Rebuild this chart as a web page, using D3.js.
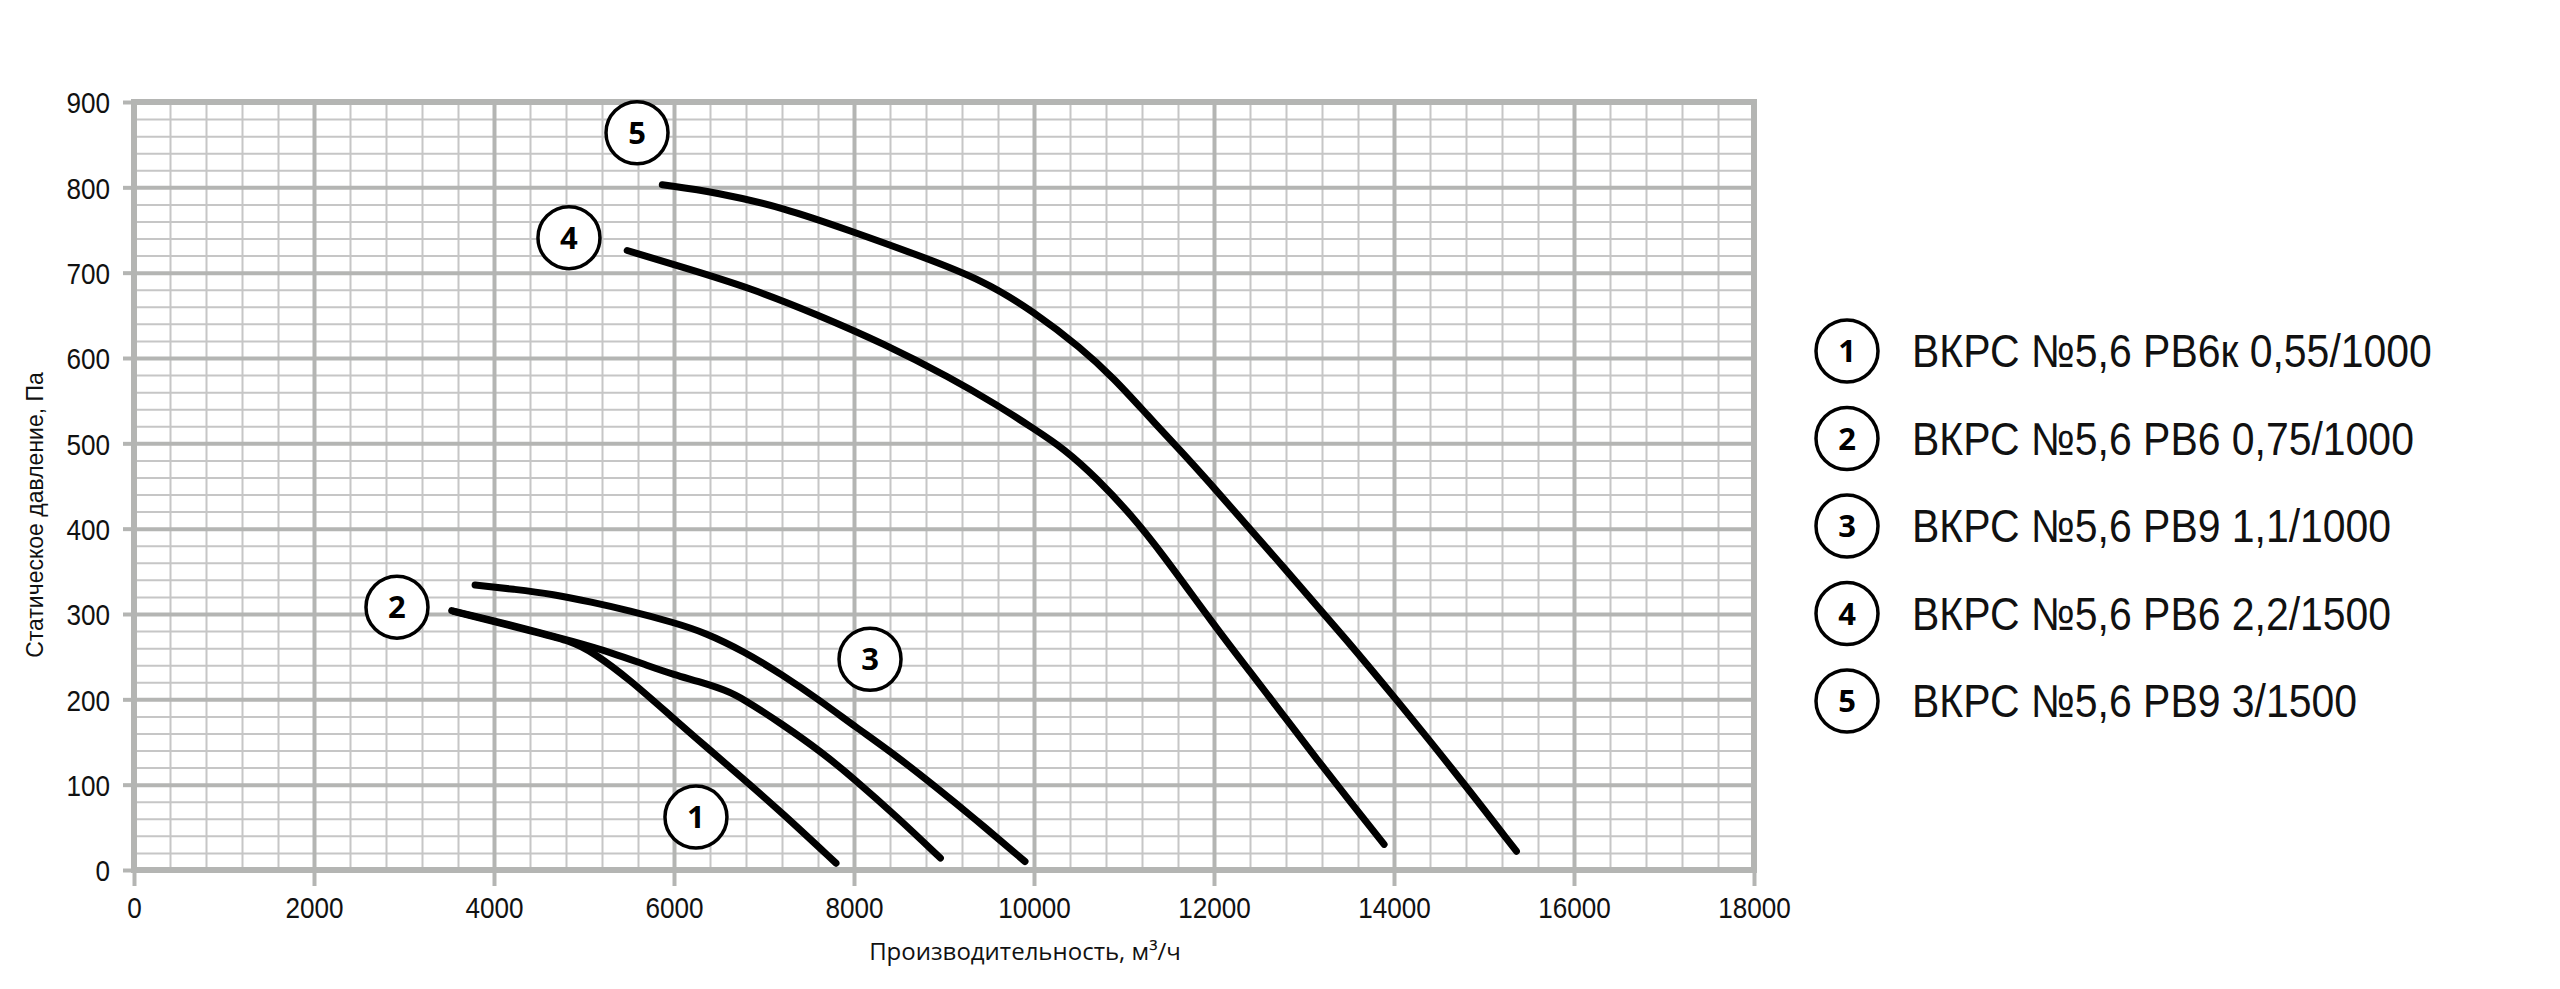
<!DOCTYPE html>
<html>
<head>
<meta charset="utf-8">
<script src="https://cdn.jsdelivr.net/npm/d3@7"></script>
<style>
  body { margin: 0; background: #fff; }
  svg { display: block; }
</style>
</head>
<body>
<div id="chart"></div>
<script>
// Chart size and plot frame (pixels)
var svgWidth = 2560;
var svgHeight = 989;

var plot = { left: 134, right: 1754, top: 102, bottom: 870 };

// Axis ticks
var xMajorTicks = [0, 2000, 4000, 6000, 8000, 10000, 12000, 14000, 16000, 18000];
var yMajorTicks = [0, 100, 200, 300, 400, 500, 600, 700, 800, 900];
var xMinorTicks = d3.range(0, 18001, 400);
var yMinorTicks = d3.range(0, 901, 20);

// Fan curves: flow (m3/h) and static pressure (Pa)
var curve1Flow = [3550, 4000, 4450, 4870, 5100, 5500, 6000, 6350, 6780, 7200, 7800];
var curve1Pres = [303, 291, 279, 268, 255, 224, 177, 145, 106, 67, 8];

var curve2Flow = [3530, 4000, 4450, 4870, 5300, 5720, 6000, 6270, 6570, 6780, 7200, 7630, 8000, 8480, 8960];
var curve2Pres = [304, 292, 280, 268, 255, 239, 229, 221, 211, 200, 171, 139, 107, 62, 14];

var curve3Flow = [3790, 4230, 4660, 5080, 5500, 6000, 6350, 6780, 7200, 7630, 8000, 8480, 8900, 9320, 9900];
var curve3Pres = [334, 329, 323, 314, 304, 290, 278, 256, 229, 198, 169, 133, 98, 62, 10];

var curve4Flow = [5480, 6110, 6850, 7590, 8330, 9070, 9590, 10000, 10330, 10700, 11080, 11410, 12000, 12410, 12780, 13150, 13520, 13890];
var curve4Pres = [726, 706, 682, 651, 617, 577, 545, 517, 494, 459, 416, 373, 287, 231, 180, 129, 79, 30];

var curve5Flow = [5870, 6480, 7220, 7960, 8700, 9440, 10000, 10520, 10890, 11260, 11640, 12000, 12780, 13520, 14000, 14640, 15360];
var curve5Pres = [803, 794, 776, 749, 721, 691, 654, 612, 576, 533, 490, 448, 354, 264, 203, 120, 22];

// Numbered markers on the plot (data coordinates)
var markerNumbers = ["1", "2", "3", "4", "5"];
var markerFlow = [6244, 2922, 8178, 4833, 5589];
var markerPres = [62, 308, 247, 741, 864];

// Legend labels
var legendLabels = [
  "ВКРС №5,6 РВ6к 0,55/1000",
  "ВКРС №5,6 РВ6 0,75/1000",
  "ВКРС №5,6 РВ9 1,1/1000",
  "ВКРС №5,6 РВ6 2,2/1500",
  "ВКРС №5,6 РВ9 3/1500"
];

var xTitle = "Производительность, м³/ч";
var yTitle = "Статическое давление, Па";

var gridMajor = "#b4b5b3";
var gridMinor = "#c6c6c6";

var svg = d3.select("#chart")
  .append("svg")
  .attr("width", svgWidth)
  .attr("height", svgHeight);

var xScale = d3.scaleLinear().domain([0, 18000]).range([plot.left, plot.right]);
var yScale = d3.scaleLinear().domain([0, 900]).range([plot.bottom, plot.top]);

var plotH = plot.bottom - plot.top;
var plotW = plot.right - plot.left;

// minor grid
svg.append("g")
  .attr("transform", `translate(0, ${plot.bottom})`)
  .call(d3.axisBottom(xScale).tickValues(xMinorTicks).tickSize(-plotH).tickFormat(""))
  .call(g => g.select(".domain").remove())
  .call(g => g.selectAll("line").attr("stroke", gridMinor).attr("stroke-width", 2));

svg.append("g")
  .attr("transform", `translate(${plot.left}, 0)`)
  .call(d3.axisLeft(yScale).tickValues(yMinorTicks).tickSize(-plotW).tickFormat(""))
  .call(g => g.select(".domain").remove())
  .call(g => g.selectAll("line").attr("stroke", gridMinor).attr("stroke-width", 2));

// major grid
svg.append("g")
  .attr("transform", `translate(0, ${plot.bottom})`)
  .call(d3.axisBottom(xScale).tickValues(xMajorTicks).tickSize(-plotH).tickFormat(""))
  .call(g => g.select(".domain").remove())
  .call(g => g.selectAll("line").attr("stroke", gridMajor).attr("stroke-width", 4));

svg.append("g")
  .attr("transform", `translate(${plot.left}, 0)`)
  .call(d3.axisLeft(yScale).tickValues(yMajorTicks).tickSize(-plotW).tickFormat(""))
  .call(g => g.select(".domain").remove())
  .call(g => g.selectAll("line").attr("stroke", gridMajor).attr("stroke-width", 4));

// frame
svg.append("rect")
  .attr("x", plot.left)
  .attr("y", plot.top)
  .attr("width", plotW)
  .attr("height", plotH)
  .attr("fill", "none")
  .attr("stroke", gridMajor)
  .attr("stroke-width", 6);

// axes with labels
var tickScale = 0.87;

var xAxis = svg.append("g")
  .attr("transform", `translate(0, ${plot.bottom})`)
  .call(d3.axisBottom(xScale).tickValues(xMajorTicks).tickSize(16).tickPadding(11).tickFormat(d3.format("d")));
xAxis.select(".domain").remove();
xAxis.selectAll("line").attr("stroke", gridMajor).attr("stroke-width", 4);
xAxis.selectAll("text")
  .attr("font-family", "'Liberation Sans', Arial, sans-serif")
  .attr("font-size", 30)
  .attr("fill", "#111")
  .attr("transform", `scale(${tickScale},1)`);

var yAxis = svg.append("g")
  .attr("transform", `translate(${plot.left}, 0)`)
  .call(d3.axisLeft(yScale).tickValues(yMajorTicks).tickSize(11).tickPadding(13).tickFormat(d3.format("d")));
yAxis.select(".domain").remove();
yAxis.selectAll("line").attr("stroke", gridMajor).attr("stroke-width", 4);
yAxis.selectAll("text")
  .attr("font-family", "'Liberation Sans', Arial, sans-serif")
  .attr("font-size", 30)
  .attr("fill", "#111")
  .attr("x", -24 / tickScale)
  .attr("dy", "0.36em")
  .attr("transform", `scale(${tickScale},1)`);

// axis titles
svg.append("text")
  .attr("x", 1025)
  .attr("y", 960)
  .attr("text-anchor", "middle")
  .attr("font-family", "'Open Sans', sans-serif")
  .attr("font-size", 24)
  .attr("fill", "#111")
  .text(xTitle);

svg.append("text")
  .attr("transform", "translate(43, 515) rotate(-90)")
  .attr("text-anchor", "middle")
  .attr("font-family", "'Liberation Sans', Arial, sans-serif")
  .attr("font-size", 23)
  .attr("fill", "#111")
  .text(yTitle);

// curves
var curves = [
  [curve1Flow, curve1Pres],
  [curve2Flow, curve2Pres],
  [curve3Flow, curve3Pres],
  [curve4Flow, curve4Pres],
  [curve5Flow, curve5Pres]
];

var line = d3.line()
  .x(d => xScale(d[0]))
  .y(d => yScale(d[1]))
  .curve(d3.curveBasis);

curves.forEach(function(c) {
  var pts = c[0].map((f, i) => [f, c[1][i]]);
  svg.append("path")
    .datum(pts)
    .attr("d", line)
    .attr("fill", "none")
    .attr("stroke", "#000")
    .attr("stroke-width", 7)
    .attr("stroke-linecap", "round")
    .attr("stroke-linejoin", "round");
});

// numbered markers
function numberBadge(g, cx, cy, label) {
  g.append("circle")
    .attr("cx", cx)
    .attr("cy", cy)
    .attr("r", 31)
    .attr("fill", "#fff")
    .attr("stroke", "#000")
    .attr("stroke-width", 3.5);
  g.append("text")
    .attr("x", cx)
    .attr("y", cy)
    .attr("dy", "0.36em")
    .attr("text-anchor", "middle")
    .attr("font-family", "'Open Sans', sans-serif")
    .attr("font-weight", "bold")
    .attr("font-size", 31)
    .attr("fill", "#000")
    .text(label);
}

var markers = svg.append("g");
markerNumbers.forEach(function(n, i) {
  numberBadge(markers, xScale(markerFlow[i]), yScale(markerPres[i]), n);
});

// legend
var legend = svg.append("g");
var legendScale = 0.89;
legendLabels.forEach(function(lbl, i) {
  var cy = 351 + i * 87.5;
  numberBadge(legend, 1847, cy, markerNumbers[i]);
  legend.append("text")
    .attr("transform", `translate(1912, ${cy + 16}) scale(${legendScale},1)`)
    .attr("font-family", "'Liberation Sans', Arial, sans-serif")
    .attr("font-size", 46)
    .attr("fill", "#111")
    .text(lbl);
});
</script>
</body>
</html>
